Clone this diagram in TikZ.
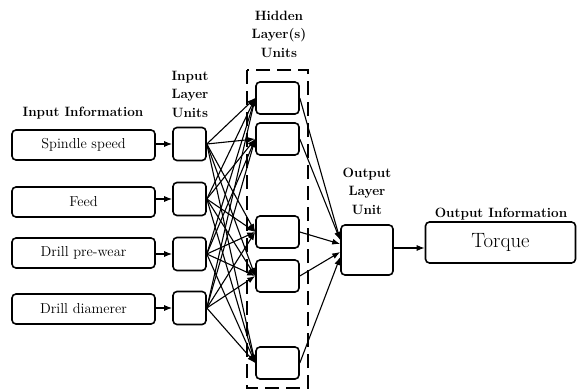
\documentclass[tikz,border=0pt]{standalone}
\usetikzlibrary{arrows.meta}
\begin{document}
\begin{tikzpicture}[x=1pt,y=-1pt,
 box/.style={draw,line width=1.6pt,rounded corners=4pt,inner sep=0pt,fill=white},
 inbox/.style={box,minimum width=143pt,minimum height=30pt,font=\fontsize{14.4}{16}\selectfont},
 unitbox/.style={box,minimum width=33pt,minimum height=33pt},
 hidbox/.style={box,minimum width=43pt,minimum height=32pt},
 lab/.style={font=\fontsize{13.5}{18.5}\selectfont\bfseries,align=center,inner sep=0pt},
 arr/.style={-{Latex[length=8pt,width=6pt]},line width=1.1pt}]
\useasboundingbox (0,0) rectangle (578,391);
% dashed hidden-layer frame
\draw[line width=1.5pt,dash pattern=on 14pt off 7pt] (247,70) rectangle (308,388);
% input information boxes
\node[inbox] (b1) at (83.5,145) {Spindle speed};
\node[inbox] (b2) at (83.5,202) {Feed};
\node[inbox] (b3) at (83.5,253) {Drill pre-wear};
\node[inbox] (b4) at (83.5,309) {Drill diamerer};
% input units
\node[unitbox] (u1) at (189.5,144) {};
\node[unitbox] (u2) at (189.5,199) {};
\node[unitbox] (u3) at (189.5,254) {};
\node[unitbox] (u4) at (189.5,308) {};
% hidden units
\node[hidbox] (h1) at (277.5,98) {};
\node[hidbox] (h2) at (277.5,139) {};
\node[hidbox] (h3) at (277.5,232) {};
\node[hidbox] (h4) at (277.5,276) {};
\node[hidbox] (h5) at (277.5,363) {};
% output unit and box
\node[box,minimum width=52pt,minimum height=50pt] (o) at (367,250) {};
\node[box,minimum width=150pt,minimum height=41pt,font=\fontsize{20.7}{22}\selectfont] (t) at (500.5,242.5) {Torque};
% labels
\node[lab] (l1) at (83,113) {Input Information};
\node[lab] (l2) at (190,94) {Input\\Layer\\Units};
\node[lab] (l3) at (279,34) {Hidden\\Layer(s)\\Units};
\node[lab] (l4) at (367,191) {Output\\Layer\\Unit};
\node[lab] (l5) at (501,214) {Output Information};
% connectors
\foreach \i in {1,2,3,4}{
  \draw[arr] (b\i.east |- u\i) -- (u\i.west);
  \foreach \j in {1,2,3,4,5}{
    \draw[arr] (u\i.east) -- (h\j.west);
  }
}
\draw[arr] (h1.east) -- ([yshift=10pt]o.west);
\draw[arr] (h2.east) -- ([yshift=10pt]o.west);
\draw[arr] (h3.east) -- ([yshift=6pt]o.west);
\draw[arr] (h4.east) -- ([yshift=-2pt]o.west);
\draw[arr] (h5.east) -- ([yshift=-7pt]o.west);
\coordinate (oe) at ([yshift=2pt]o.east);
\draw[arr] (oe) -- (t.west |- oe);
\end{tikzpicture}
\end{document}
